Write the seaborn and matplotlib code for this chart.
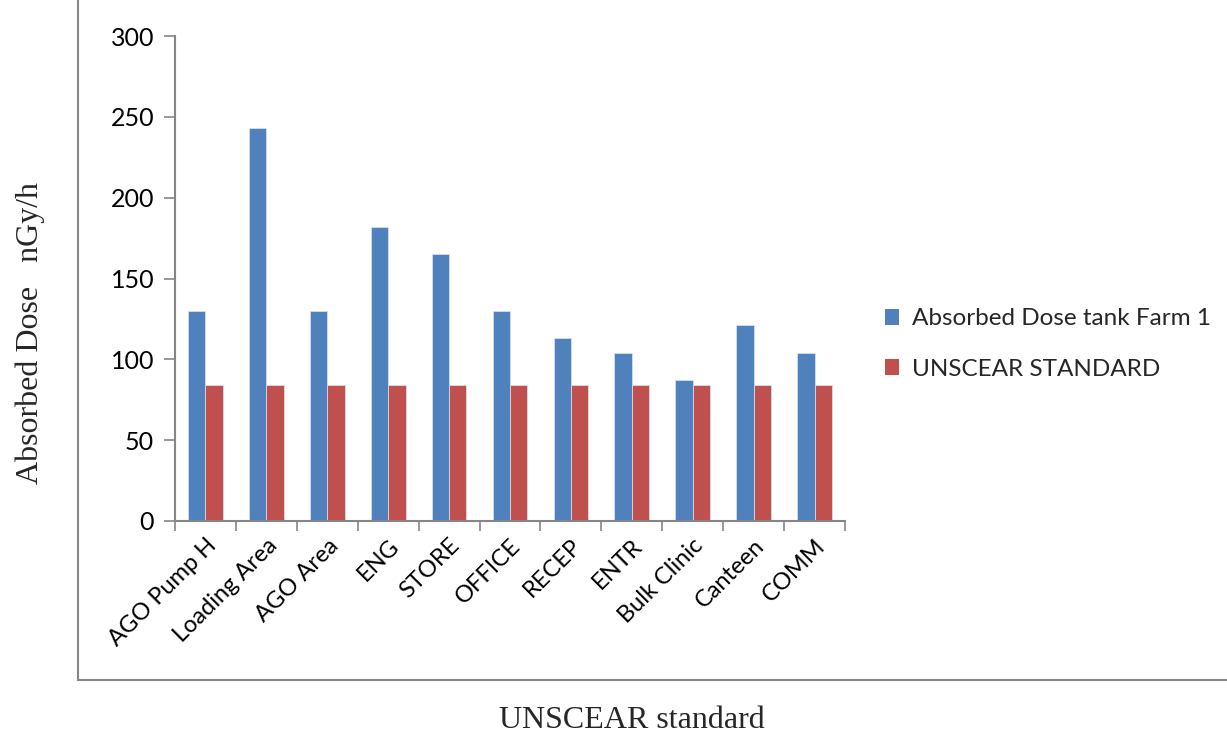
import matplotlib
matplotlib.use("Agg")
import matplotlib.pyplot as plt
from matplotlib.lines import Line2D
from matplotlib.patches import Patch
from matplotlib.ticker import FixedLocator
import numpy as np
import pandas as pd
import seaborn as sns

# data
locations = ["AGO Pump H", "Loading Area", "AGO Area", "ENG", "STORE", "OFFICE",
             "RECEP", "ENTR", "Bulk Clinic", "Canteen", "COMM"]
tank_farm_dose = [130, 243, 130, 182, 165, 130, 113, 104, 87, 121, 104]
unscear_standard = [84, 84, 84, 84, 84, 84, 84, 84, 84, 84, 84]
series_names = ["Absorbed Dose tank Farm 1", "UNSCEAR STANDARD"]
y_ticks = [0, 50, 100, 150, 200, 250, 300]

colors = ["#4F81BD", "#C0504D"]
axis_grey = "#868686"

df = pd.DataFrame({
    "Location": locations * 2,
    "Dose": tank_farm_dose + unscear_standard,
    "Series": [series_names[0]] * len(locations) + [series_names[1]] * len(locations),
})

sns.set_style("white")
plt.rcParams["font.family"] = ["Lato", "DejaVu Sans"]

fig = plt.figure(figsize=(12.27, 7.37), dpi=100)
ax = fig.add_axes([175 / 1227, 1 - 521 / 737, 670 / 1227, 485 / 737])

sns.barplot(data=df, x="Location", y="Dose", hue="Series", palette=colors,
            width=0.57, ax=ax, legend=False, saturation=1, errorbar=None,
            edgecolor="#dce6f2", linewidth=0.5)

ax.set_xlim(-0.5, len(locations) - 0.5)
ax.set_ylim(0, 300)
ax.set_yticks(y_ticks)
ax.tick_params(axis="y", direction="out", length=8, width=1.2, color=axis_grey,
               labelsize=18, pad=7, left=True, labelcolor="black")
ax.set_xticks(range(len(locations)))
ax.set_xticklabels(locations, rotation=45, ha="right", rotation_mode="anchor",
                   fontsize=17)
ax.tick_params(axis="x", which="major", length=0, pad=10, labelcolor="black")
ax.xaxis.set_minor_locator(FixedLocator(np.arange(-0.5, len(locations), 1.0)))
ax.tick_params(axis="x", which="minor", direction="out", length=7, width=1.2,
               color=axis_grey, bottom=True)

for side in ["top", "right"]:
    ax.spines[side].set_visible(False)
for side in ["left", "bottom"]:
    ax.spines[side].set_color(axis_grey)
    ax.spines[side].set_linewidth(1.5)

ax.set_xlabel("")
ax.set_ylabel("")
fig.text(30 / 1227, 1 - 333 / 737, "Absorbed Dose   nGy/h", rotation=90,
         ha="center", va="center", fontsize=23, family="Liberation Serif")
fig.text(632 / 1227, 1 - 720 / 737, "UNSCEAR standard", ha="center", va="center",
         fontsize=23, family="Liberation Serif")

handles = [Patch(facecolor=c, edgecolor="none") for c in colors]
fig.legend(handles, series_names, loc="center left",
           bbox_to_anchor=(863 / 1227, 1 - 344 / 737), frameon=False,
           fontsize=17.5, handlelength=0.6, handleheight=0.6, handletextpad=0.5,
           labelspacing=1.2)

# outer chart border
fig.add_artist(Line2D([78 / 1227, 78 / 1227], [1 - 680 / 737, 1],
                      color=axis_grey, lw=1.5))
fig.add_artist(Line2D([78 / 1227, 1], [1 - 680 / 737, 1 - 680 / 737],
                      color=axis_grey, lw=1.5))

fig.savefig("out.png", dpi=100)
